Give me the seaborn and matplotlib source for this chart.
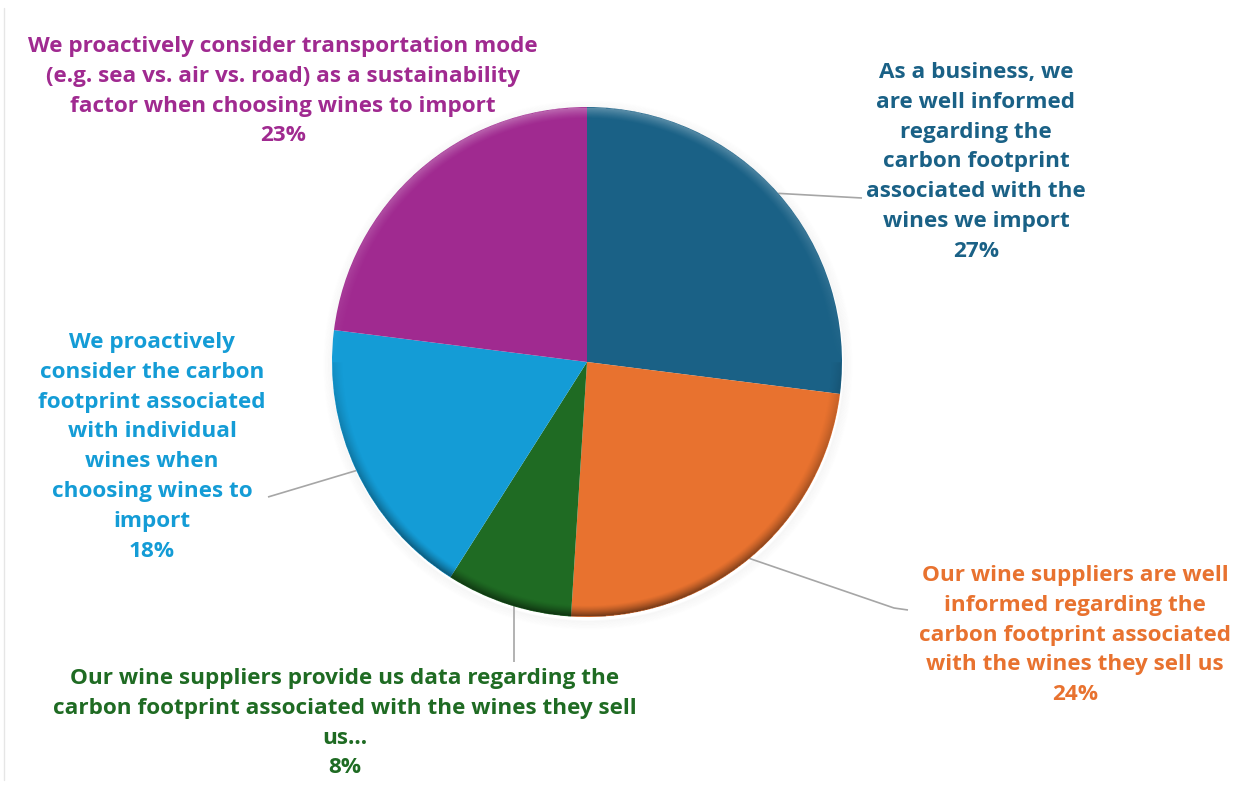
import numpy as np
import matplotlib
matplotlib.use("Agg")
import matplotlib.pyplot as plt
import seaborn as sns
from matplotlib.patches import Circle

sns.set_theme(style="white")
plt.rcParams["font.family"] = ["Open Sans", "DejaVu Sans"]

# Survey statements and their shares (clockwise from 12 o'clock)
labels = [
    "As a business, we\nare well informed\nregarding the\ncarbon footprint\nassociated with the\nwines we import",
    "Our wine suppliers are well\ninformed regarding the\ncarbon footprint associated\nwith the wines they sell us",
    "Our wine suppliers provide us data regarding the\ncarbon footprint associated with the wines they sell\nus...",
    "We proactively\nconsider the carbon\nfootprint associated\nwith individual\nwines when\nchoosing wines to\nimport",
    "We proactively consider transportation mode\n(e.g. sea vs. air vs. road) as a sustainability\nfactor when choosing wines to import",
]
shares = [27, 24, 8, 18, 23]
colors = ["#1a6186", "#e8722f", "#1f6b23", "#149cd6", "#a02a90"]

W, H = 1242, 787
fig = plt.figure(figsize=(W / 100, H / 100), dpi=100)
ax = fig.add_axes([0, 0, 1, 1])

cx, cy, R = 587, 787 - 362, 255

# soft drop shadow around the disc
for k in range(12):
    ax.add_patch(Circle((cx + 1, cy - 3), R + 1 + k * 0.8, facecolor="none",
                        edgecolor="black", lw=1.2, alpha=0.018 * (12 - k) / 12, zorder=1))

wedges, _ = ax.pie(shares, colors=colors, startangle=90, counterclock=False,
                   center=(cx, cy), radius=R, frame=True,
                   wedgeprops=dict(linewidth=0, zorder=2))

# bevelled rim: lighter on top, darker toward the bottom
n = 700
gx = np.linspace(cx - R, cx + R, n)
gy = np.linspace(cy - R, cy + R, n)
XX, YY = np.meshgrid(gx, gy)
rr = np.hypot(XX - cx, YY - cy) / R
ang = np.arctan2(YY - cy, XX - cx)
rim = np.clip((rr - 0.955) / 0.045, 0, 1) ** 1.3
rim[rr > 1] = 0
light = np.sin(ang)
rgba = np.zeros((n, n, 4))
top = light > 0
rgba[..., :3] = np.where(top[..., None], 1.0, 0.0)
rgba[..., 3] = np.where(top, rim * light * 0.30, rim * (-light) * 0.45 + rim * 0.08)
ax.imshow(rgba, extent=(cx - R, cx + R, cy - R, cy + R), origin="lower",
          zorder=3, interpolation="bilinear")

ax.set_xlim(0, W)
ax.set_ylim(0, H)
ax.set_aspect("equal")
ax.axis("off")

# label blocks: centre x, top y (pixels from top), leader path after the rim point
label_pos = [
    (976, 62, [(862, 198)]),
    (1075, 565, [(894, 608), (908, 610)]),
    (345, 668, "down"),
    (152, 332, [(268, 497)]),
    (283, 36, None),
]

cum = 0.0
total = float(sum(shares))
for lab, val, col, (lx, ly, path) in zip(labels, shares, colors, label_pos):
    mid = 90 - 360 * (cum + val / 2) / total
    cum += val
    text = lab + "\n" + f"{val}%"
    ax.text(lx, H - ly, text, ha="center", va="top", color=col, fontsize=16.2,
            fontweight="bold", linespacing=1.55, zorder=5)
    if path is None:
        continue
    if path == "down":
        # vertical leader dropping from the rim inside the wedge
        sx = 514
        sy = cy - np.sqrt(R ** 2 - (sx - cx) ** 2)
        xs, ys = [sx, sx], [sy, H - 662]
    else:
        sx = cx + R * np.cos(np.radians(mid))
        sy = cy + R * np.sin(np.radians(mid))
        xs = [sx] + [p[0] for p in path]
        ys = [sy] + [H - p[1] for p in path]
    ax.plot(xs, ys, color="#a6a6a6", lw=1.2, zorder=1.5, solid_capstyle="butt")

# faint frame on the left edge
ax.plot([4, 4], [H - 8, H - 780], color="#e6e6e6", lw=1, zorder=0)

fig.savefig("out.png", dpi=100, facecolor="white")
